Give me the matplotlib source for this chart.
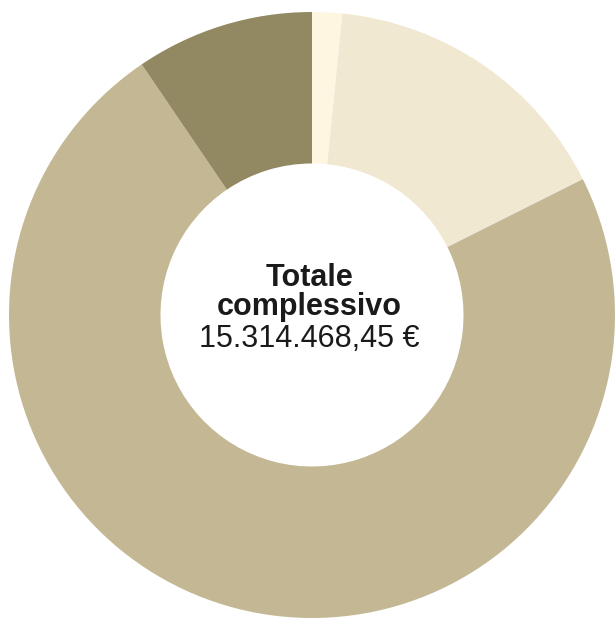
import matplotlib
matplotlib.use("Agg")
import matplotlib.pyplot as plt

# Share of total (%), clockwise from 12 o'clock
shares = [1.6, 16.0, 72.9, 9.5]
colors = ["#FEF6E1", "#F1E8D1", "#C4B894", "#928962"]

title_lines = ["Totale", "complessivo"]
total_label = "15.314.468,45 €"

plt.rcParams["font.family"] = ["Liberation Sans", "DejaVu Sans"]

W, H = 615, 618
fig = plt.figure(figsize=(W / 100, H / 100), dpi=100)
# donut centre at (312, 315) px, outer radius 303 px
ax = fig.add_axes([9 / W, 0, 606 / W, 606 / H])

ax.pie(shares, colors=colors, startangle=90, counterclock=False,
       radius=1.0, wedgeprops=dict(width=0.5, linewidth=0))
ax.set_xlim(-1, 1)
ax.set_ylim(-1, 1)
ax.axis("off")

tx = -0.009
ax.text(tx, 0.096, title_lines[0], ha="center", va="baseline",
        fontsize=22, fontweight="bold", color="#1a1a1a")
ax.text(tx, 0.0, title_lines[1], ha="center", va="baseline",
        fontsize=22, fontweight="bold", color="#1a1a1a")
ax.text(tx, -0.106, total_label, ha="center", va="baseline",
        fontsize=22, color="#1a1a1a")

fig.savefig("out.png", dpi=100)
